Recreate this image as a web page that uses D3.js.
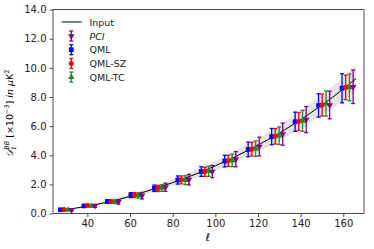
<!DOCTYPE html>
<html>
<head>
<meta charset="utf-8">
<script src="https://cdn.jsdelivr.net/npm/d3@7"></script>
<style>
  body { margin: 0; background: #fff; }
  text { font-family: "DejaVu Sans", sans-serif; }
</style>
</head>
<body>
<div id="chart"></div>
<script>
// bin centres (multipole ell)
const ells = [30, 41, 52, 63, 74, 85, 96, 107, 118, 129, 140, 151, 162];

// input spectrum, D_ell^BB x 1e-3 muK^2
const inputEll = [28, 35, 40, 50, 60, 70, 80, 90, 100, 110, 120, 130, 140, 150, 160, 166];
const inputVal = [0.22, 0.38, 0.5, 0.8, 1.18, 1.63, 2.12, 2.66, 3.27, 3.95, 4.7, 5.52, 6.45, 7.45, 8.55, 9.27];
// shaded band around input
const bandLo = [0.19, 0.33, 0.44, 0.7, 1.04, 1.45, 1.9, 2.38, 2.94, 3.56, 4.24, 4.98, 5.83, 6.75, 7.75, 8.42];
const bandHi = [0.25, 0.43, 0.56, 0.9, 1.32, 1.81, 2.34, 2.94, 3.6, 4.34, 5.16, 6.06, 7.07, 8.15, 9.35, 10.12];

// estimators
const qmlVal   = [0.26, 0.52, 0.82, 1.26, 1.73, 2.3, 2.88, 3.6, 4.4, 5.28, 6.3, 7.42, 8.6];
const qmlErr   = [0.06, 0.08, 0.11, 0.17, 0.22, 0.28, 0.33, 0.4, 0.5, 0.56, 0.66, 0.8, 1.0];
const qmlszVal = [0.27, 0.55, 0.83, 1.27, 1.72, 2.31, 2.86, 3.62, 4.42, 5.3, 6.32, 7.45, 8.66];
const qmlszErr = [0.06, 0.08, 0.11, 0.17, 0.21, 0.27, 0.31, 0.38, 0.47, 0.53, 0.62, 0.75, 0.84];
const qmltcVal = [0.25, 0.52, 0.8, 1.24, 1.75, 2.29, 2.9, 3.65, 4.45, 5.34, 6.36, 7.55, 8.66];
const qmltcErr = [0.06, 0.08, 0.12, 0.18, 0.23, 0.3, 0.35, 0.43, 0.53, 0.6, 0.72, 0.86, 0.92];
const pciVal   = [0.24, 0.53, 0.8, 1.22, 1.8, 2.32, 2.88, 3.73, 4.6, 5.45, 6.45, 7.45, 8.7];
const pciErr   = [0.07, 0.1, 0.15, 0.22, 0.28, 0.36, 0.42, 0.52, 0.64, 0.76, 0.9, 0.95, 1.15];

const xTicks = [40, 60, 80, 100, 120, 140, 160];
const yTicks = [0, 2, 4, 6, 8, 10, 12, 14];

const width = 374, height = 249;
const marginLeft = 53, marginRight = 10, marginTop = 9.6, marginBottom = 35.5;

const x = d3.scaleLinear([23.9, 169.7], [marginLeft, width - marginRight]);
const y = d3.scaleLinear([0, 14], [height - marginBottom, marginTop]);

const svg = d3.select("#chart").append("svg")
  .attr("width", width)
  .attr("height", height);

// band + input line
const band = inputEll.map((l, i) => ({l, lo: bandLo[i], hi: bandHi[i]}));
svg.append("path")
  .attr("fill", "#e3e3e3")
  .attr("d", d3.area().x(d => x(d.l)).y0(d => y(d.lo)).y1(d => y(d.hi)).curve(d3.curveMonotoneX)(band));

svg.append("path")
  .attr("fill", "none")
  .attr("stroke", "black")
  .attr("stroke-width", 1)
  .attr("d", d3.line().x((d, i) => x(inputEll[i])).y(d => y(d)).curve(d3.curveMonotoneX)(inputVal));

const series = [
  {name: "QML", color: "#0000ff", vals: qmlVal, errs: qmlErr, shift: -2.6, sym: d3.symbolSquare, size: 22, rot: 0},
  {name: "QML-SZ", color: "#ff0000", vals: qmlszVal, errs: qmlszErr, shift: -0.9, sym: d3.symbolCircle, size: 20, rot: 0},
  {name: "QML-TC", color: "#228b22", vals: qmltcVal, errs: qmltcErr, shift: 0.9, sym: d3.symbolTriangle, size: 18, rot: 0},
  {name: "PCI", color: "#800080", vals: pciVal, errs: pciErr, shift: 2.6, sym: d3.symbolTriangle, size: 18, rot: 180}
];

function drawErr(g, cx, cy, y0, y1, color, s) {
  g.append("line").attr("x1", cx).attr("x2", cx).attr("y1", y0).attr("y2", y1)
    .attr("stroke", color).attr("stroke-width", 1.3);
  [y0, y1].forEach(v => g.append("line").attr("x1", cx - 2).attr("x2", cx + 2).attr("y1", v).attr("y2", v)
    .attr("stroke", color).attr("stroke-width", 1.3));
  g.append("path").attr("d", d3.symbol(s.sym, s.size)())
    .attr("transform", `translate(${cx},${cy}) rotate(${s.rot})`)
    .attr("fill", color);
}

series.forEach(s => {
  const g = svg.append("g");
  ells.forEach((l, i) => {
    const cx = x(l + s.shift);
    drawErr(g, cx, y(s.vals[i]), y(s.vals[i] - s.errs[i]), y(s.vals[i] + s.errs[i]), s.color, s);
  });
});

// axes
const gx = svg.append("g")
  .attr("transform", `translate(0,${height - marginBottom})`)
  .call(d3.axisBottom(x).tickValues(xTicks).tickSize(3.5).tickPadding(3));
const gy = svg.append("g")
  .attr("transform", `translate(${marginLeft},0)`)
  .call(d3.axisLeft(y).tickValues(yTicks).tickFormat(d3.format(".1f")).tickSize(3.5).tickPadding(3));
[gx, gy].forEach(g => {
  g.selectAll("text").attr("font-size", 10).attr("fill", "#222").attr("font-family", "DejaVu Sans");
  g.selectAll("line").attr("stroke", "#222").attr("stroke-width", 0.8);
  g.select(".domain").remove();
});

svg.append("rect")
  .attr("x", marginLeft).attr("y", marginTop)
  .attr("width", width - marginRight - marginLeft)
  .attr("height", height - marginBottom - marginTop)
  .attr("fill", "none").attr("stroke", "#222").attr("stroke-width", 0.8);

// axis labels
svg.append("text")
  .attr("x", x(ells[6] + 0.5)).attr("y", 241)
  .attr("text-anchor", "middle")
  .attr("font-size", 11).attr("font-style", "italic")
  .attr("font-family", "DejaVu Serif")
  .text("ℓ");

const yl = svg.append("text")
  .attr("transform", `translate(13,${(marginTop + height - marginBottom) / 2 + 2}) rotate(-90)`)
  .attr("text-anchor", "middle")
  .attr("font-size", 9.5);
yl.append("tspan").attr("font-family", "DejaVu Serif").attr("font-style", "italic").text("𝒟");
yl.append("tspan").attr("font-size", 6.5).attr("dy", 2.5).attr("font-style", "italic").text("ℓ");
yl.append("tspan").attr("font-size", 6.5).attr("dy", -7).attr("dx", -3).attr("font-style", "italic").text("BB");
yl.append("tspan").attr("dy", 4.5).text(" [×10");
yl.append("tspan").attr("font-size", 6.5).attr("dy", -4).text("−3");
yl.append("tspan").attr("dy", 4).text("] ");
yl.append("tspan").attr("font-style", "italic").text("in μ");
yl.append("tspan").text("K");
yl.append("tspan").attr("font-size", 6.5).attr("dy", -4).text("2");

// legend
const legend = svg.append("g");
legend.append("line").attr("x1", 61.7).attr("x2", 81.7).attr("y1", 22).attr("y2", 22)
  .attr("stroke", "black").attr("stroke-width", 1);
legend.append("text").attr("x", 89.5).attr("y", 25.5).attr("font-size", 9.5).attr("fill", "#222").text("Input");
const order = [series[3], series[0], series[1], series[2]];
order.forEach((s, i) => {
  const cy = 36 + i * 13.7;
  drawErr(legend, 71.3, cy, cy + 5, cy - 5, s.color, s);
  legend.append("text").attr("x", 89.5).attr("y", cy + 3.5).attr("font-size", 9.5).attr("fill", "#222")
    .attr("font-style", s.name === "PCI" ? "italic" : null)
    .text(s.name);
});
</script>
</body>
</html>
